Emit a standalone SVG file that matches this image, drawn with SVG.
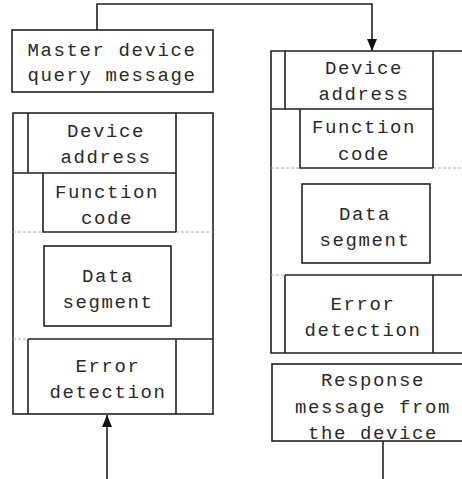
<svg xmlns="http://www.w3.org/2000/svg" width="462" height="479" viewBox="0 0 462 479">
<defs>
<style>
.box{fill:none;stroke:#222;stroke-width:1.6}
.ln{stroke:#222;stroke-width:1.6;fill:none}
.dash{stroke:#aaa;stroke-width:1;stroke-dasharray:3 2;fill:none}
text{font-family:"Liberation Mono","DejaVu Sans Mono",monospace;font-size:19px;letter-spacing:1.6px;fill:#2a2a2a;text-anchor:middle}
</style>
<marker id="arr" viewBox="0 0 12 10" refX="12" refY="5" markerWidth="12" markerHeight="10" markerUnits="userSpaceOnUse" orient="auto">
<path d="M0,0 L12,5 L0,10 Z" fill="#111"/>
</marker>
</defs>
<rect width="462" height="479" fill="#fff"/>
<g id="connectors">
<path class="ln" d="M97,30 V4 H372 V51" marker-end="url(#arr)"/>
<path class="ln" d="M107,479 V415" marker-end="url(#arr)"/>
<path class="ln" d="M383,441 V479"/>
</g>
<g id="master-query">
<rect class="box" x="12" y="30" width="201" height="62"/>
<text x="112" y="56">Master device</text>
<text x="112" y="81">query message</text>
</g>
<g id="query-frame">
<rect class="box" x="13" y="113" width="200" height="301"/>
<line class="dash" x1="13" y1="232" x2="43" y2="232"/>
<line class="dash" x1="176" y1="232" x2="213" y2="232"/>
<line class="dash" x1="13" y1="339" x2="28" y2="339"/>
<line class="ln" x1="28" y1="339" x2="213" y2="339"/>
</g>
<g id="q-device-address">
<path class="ln" d="M28,113 V173 M176,113 V232 M13,173 H176"/>
<text x="106" y="137">Device</text>
<text x="106" y="163">address</text>
</g>
<g id="q-function-code">
<path class="ln" d="M43,173 V232 H176"/>
<text x="107" y="198">Function</text>
<text x="107" y="224">code</text>
</g>
<g id="q-data-segment">
<rect class="box" x="44" y="246" width="127" height="80"/>
<text x="108" y="282">Data</text>
<text x="108" y="308">segment</text>
</g>
<g id="q-error-detection">
<path class="ln" d="M28,339 V414 M176,339 V414"/>
<text x="108" y="372">Error</text>
<text x="108" y="398">detection</text>
</g>
<g id="response-frame">
<path class="ln" d="M470,51 H271 V353 H470"/>
<line class="dash" x1="271" y1="168" x2="300" y2="168"/>
<line class="dash" x1="433" y1="168" x2="470" y2="168"/>
<line class="dash" x1="271" y1="275" x2="285" y2="275"/>
<line class="ln" x1="285" y1="275" x2="470" y2="275"/>
</g>
<g id="r-device-address">
<path class="ln" d="M285,51 V109 M433,51 V168 M271,109 H433"/>
<text x="364" y="74">Device</text>
<text x="364" y="100">address</text>
</g>
<g id="r-function-code">
<path class="ln" d="M300,109 V168 H433"/>
<text x="364" y="133">Function</text>
<text x="364" y="160">code</text>
</g>
<g id="r-data-segment">
<rect class="box" x="302" y="184" width="128" height="79"/>
<text x="365" y="220">Data</text>
<text x="365" y="246">segment</text>
</g>
<g id="r-error-detection">
<path class="ln" d="M285,275 V353 M433,275 V353"/>
<text x="363" y="310">Error</text>
<text x="363" y="336">detection</text>
</g>
<g id="response-message">
<rect class="box" x="272" y="364" width="200" height="77"/>
<text x="373" y="386">Response</text>
<text x="373" y="413">message from</text>
<text x="373" y="439">the device</text>
</g>
</svg>
